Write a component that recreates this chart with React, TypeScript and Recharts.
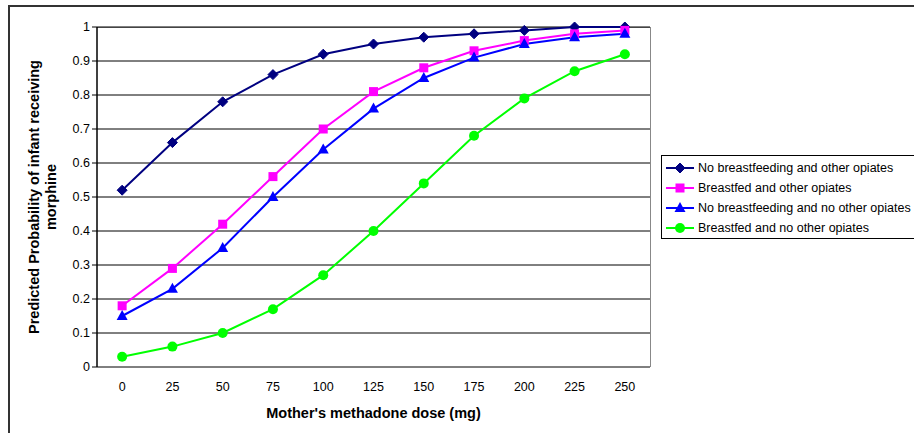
import {
  LineChart,
  Line,
  XAxis,
  YAxis,
  CartesianGrid,
} from 'recharts';

const doses = [0, 25, 50, 75, 100, 125, 150, 175, 200, 225, 250];
// category boundaries, where the x-axis tick marks sit
const doseBoundaries = [-12.5, 12.5, 37.5, 62.5, 87.5, 112.5, 137.5, 162.5, 187.5, 212.5, 237.5, 262.5];

const noBreastfeedingOtherOpiates = [0.52, 0.66, 0.78, 0.86, 0.92, 0.95, 0.97, 0.98, 0.99, 1.0, 1.0];
const breastfedOtherOpiates = [0.18, 0.29, 0.42, 0.56, 0.7, 0.81, 0.88, 0.93, 0.96, 0.98, 0.99];
const noBreastfeedingNoOtherOpiates = [0.15, 0.23, 0.35, 0.5, 0.64, 0.76, 0.85, 0.91, 0.95, 0.97, 0.98];
const breastfedNoOtherOpiates = [0.03, 0.06, 0.1, 0.17, 0.27, 0.4, 0.54, 0.68, 0.79, 0.87, 0.92];

const yTicks = [0, 0.1, 0.2, 0.3, 0.4, 0.5, 0.6, 0.7, 0.8, 0.9, 1];

type Shape = 'diamond' | 'square' | 'triangle' | 'circle';

const series: { key: string; name: string; color: string; shape: Shape; values: number[] }[] = [
  { key: 'a', name: 'No breastfeeding and other opiates', color: '#000080', shape: 'diamond', values: noBreastfeedingOtherOpiates },
  { key: 'b', name: 'Breastfed and other opiates', color: '#FF00FF', shape: 'square', values: breastfedOtherOpiates },
  { key: 'c', name: 'No breastfeeding and no other opiates', color: '#0000FF', shape: 'triangle', values: noBreastfeedingNoOtherOpiates },
  { key: 'd', name: 'Breastfed and no other opiates', color: '#00FF00', shape: 'circle', values: breastfedNoOtherOpiates },
];

const data = doses.map((dose, i) => {
  const row: Record<string, number> = { dose };
  series.forEach((s) => {
    row[s.key] = s.values[i];
  });
  return row;
});

const FONT = '"Liberation Sans", Arial, sans-serif';
const DOMAIN: [number, number] = [-12.5, 262.5];

function Marker({ cx, cy, shape, color }: { cx: number; cy: number; shape: Shape; color: string }) {
  if (shape === 'diamond') {
    return <polygon points={`${cx},${cy - 5} ${cx + 5},${cy} ${cx},${cy + 5} ${cx - 5},${cy}`} fill={color} stroke={color} />;
  }
  if (shape === 'square') {
    return <rect x={cx - 4.5} y={cy - 4.5} width={9} height={9} fill={color} />;
  }
  if (shape === 'triangle') {
    return <polygon points={`${cx},${cy - 6} ${cx + 5.5},${cy + 4} ${cx - 5.5},${cy + 4}`} fill={color} />;
  }
  return <circle cx={cx} cy={cy} r={5} fill={color} />;
}

const LegendBox = () => (
  <div
    style={{
      position: 'absolute',
      left: 661,
      top: 155,
      border: '1px solid #000',
      background: '#fff',
      width: 260,
      height: 84,
      boxSizing: 'border-box',
      paddingTop: 2,
      fontFamily: FONT,
      fontSize: 12.5,
      color: '#000',
    }}
  >
    {series.map((s) => (
      <div key={s.key} style={{ display: 'flex', alignItems: 'center', height: 20, whiteSpace: 'nowrap' }}>
        <svg width={36} height={12} style={{ flex: 'none' }}>
          <line x1={4} y1={6} x2={32} y2={6} stroke={s.color} strokeWidth={2} />
          <Marker cx={18} cy={6} shape={s.shape} color={s.color} />
        </svg>
        <span>{s.name}</span>
      </div>
    ))}
  </div>
);

export default function App() {
  return (
    <div style={{ position: 'fixed', left: 0, top: 0, width: 914, height: 433, background: '#fff', overflow: 'hidden' }}>
      {/* outer chart frame, runs past the right and bottom edges */}
      <div
        style={{
          position: 'absolute',
          left: 8,
          top: 5,
          width: 1000,
          height: 1000,
          border: '2px solid #333',
          boxSizing: 'border-box',
        }}
      />
      {/* plot area border */}
      <div
        style={{
          position: 'absolute',
          left: 97,
          top: 27,
          width: 554,
          height: 340,
          borderTop: '1px solid #888',
          borderRight: '1px solid #888',
          boxSizing: 'border-box',
        }}
      />
      <div style={{ position: 'absolute', left: 0, top: 0 }}>
        <LineChart
          width={914}
          height={433}
          data={data}
          margin={{ top: 27, right: 264, bottom: 36, left: 37 }}
          style={{ fontFamily: FONT }}
        >
          <CartesianGrid horizontal vertical={false} stroke="#000" strokeWidth={1} />
          {/* tick marks between categories */}
          <XAxis
            xAxisId={0}
            dataKey="dose"
            type="number"
            domain={DOMAIN}
            ticks={doseBoundaries}
            interval={0}
            height={0}
            tick={false}
            tickLine={{ stroke: '#000' }}
            tickSize={5}
            axisLine={{ stroke: '#000', strokeWidth: 1.5 }}
          />
          {/* dose labels centred on each category */}
          <XAxis
            xAxisId="labels"
            dataKey="dose"
            type="number"
            domain={DOMAIN}
            ticks={doses}
            interval={0}
            height={30}
            tick={{ fill: '#000', fontSize: 12.5, fontFamily: FONT, dy: 7 }}
            tickLine={false}
            axisLine={false}
            label={{
              value: "Mother's methadone dose (mg)",
              position: 'insideBottom',
              offset: -21,
              style: { fontSize: 14.5, fontWeight: 'bold', fill: '#000', fontFamily: FONT },
            }}
          />
          <YAxis
            width={60}
            domain={[0, 1]}
            ticks={yTicks}
            interval={0}
            tick={{ fill: '#000', fontSize: 12.5, fontFamily: FONT }}
            tickLine={{ stroke: '#000' }}
            tickSize={5}
            axisLine={{ stroke: '#000', strokeWidth: 1.5 }}
            tickFormatter={(v: number) => String(v)}
          />
          {series.map((s) => (
            <Line
              key={s.key}
              xAxisId={0}
              type="linear"
              dataKey={s.key}
              name={s.name}
              stroke={s.color}
              strokeWidth={2}
              isAnimationActive={false}
              activeDot={false}
              dot={(p: any) => <Marker key={`${s.key}-${p.index}`} cx={p.cx} cy={p.cy} shape={s.shape} color={s.color} />}
            />
          ))}
        </LineChart>
      </div>
      <LegendBox />
      {/* rotated y-axis title on two lines */}
      <svg width={914} height={433} style={{ position: 'absolute', left: 0, top: 0, pointerEvents: 'none' }}>
        <text
          transform="translate(39,197) rotate(-90)"
          textAnchor="middle"
          fontFamily={FONT}
          fontSize={14.5}
          fontWeight="bold"
          fill="#000"
        >
          <tspan x={0} dy={0}>Predicted Probability of infant receiving</tspan>
          <tspan x={0} dy={17}>morphine</tspan>
        </text>
      </svg>
    </div>
  );
}
